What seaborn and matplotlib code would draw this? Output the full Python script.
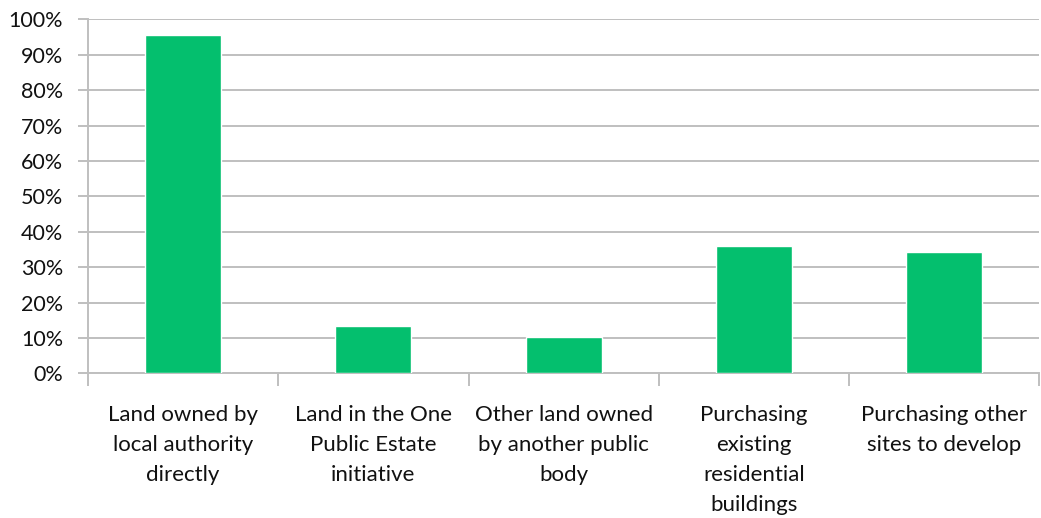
import matplotlib
matplotlib.use("Agg")
import matplotlib.pyplot as plt
import seaborn as sns
import pandas as pd
from matplotlib.ticker import PercentFormatter, FixedLocator

categories = [
    "Land owned by\nlocal authority\ndirectly",
    "Land in the One\nPublic Estate\ninitiative",
    "Other land owned\nby another public\nbody",
    "Purchasing\nexisting\nresidential\nbuildings",
    "Purchasing other\nsites to develop",
]
values = [95.6, 13.4, 10.3, 36.0, 34.2]
yticks = list(range(0, 101, 10))

sns.set_theme(style="white")
plt.rcParams['font.family'] = ['Lato', 'DejaVu Sans']

df = pd.DataFrame({"cat": categories, "val": values})

fig = plt.figure(figsize=(10.41, 5.18), dpi=100)
ax = fig.add_axes([0.0845, 0.2793, 0.914, 0.6834])
sns.barplot(data=df, x="cat", y="val", color="#04BF6E", width=0.4,
            saturation=1, ax=ax, zorder=3)

ax.set_ylim(0, 100)
ax.set_xlim(-0.5, 4.5)
ax.set_yticks(yticks)
ax.yaxis.set_major_formatter(PercentFormatter(decimals=0))
ax.yaxis.grid(True, color="#BFBFBF", linewidth=1.4, zorder=0)
ax.set_axisbelow(True)
ax.set_xlabel("")
ax.set_ylabel("")

for s in ["top", "right"]:
    ax.spines[s].set_visible(False)
for s in ["left", "bottom"]:
    ax.spines[s].set_color("#BFBFBF")
    ax.spines[s].set_linewidth(1.4)

ax.tick_params(axis="y", which="major", left=True, length=7, width=1.4,
               color="#BFBFBF", labelsize=15.5, labelcolor="#111111", pad=11)
ax.tick_params(axis="x", which="major", bottom=False, labelsize=16,
               labelcolor="#111111", pad=17)
ax.xaxis.set_minor_locator(FixedLocator([-0.5, 0.5, 1.5, 2.5, 3.5, 4.5]))
ax.tick_params(axis="x", which="minor", bottom=True, length=9, width=1.4,
               color="#BFBFBF")
for lbl in ax.get_xticklabels():
    lbl.set_linespacing(1.62)
    lbl.set_ha("center")

fig.savefig("out.png", dpi=100)
